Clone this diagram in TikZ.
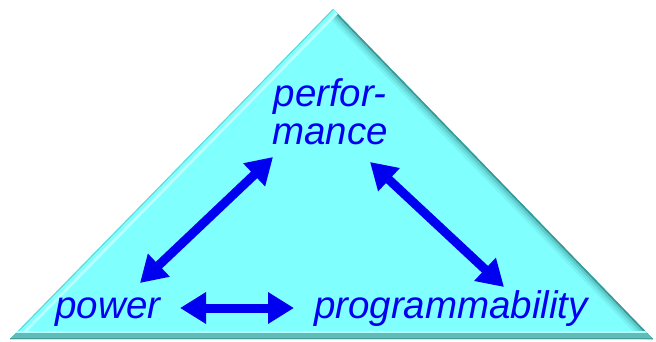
\documentclass[tikz,border=0pt]{standalone}
\usepackage{fontspec}
\setmainfont{Liberation Sans}
\usetikzlibrary{arrows.meta}
\definecolor{prism}{RGB}{128,255,255}
\definecolor{prismdark}{RGB}{60,150,150}
\definecolor{prismbase}{RGB}{96,188,182}
\definecolor{ink}{RGB}{0,0,240}
\begin{document}
\begin{tikzpicture}[x=1pt,y=-1pt,
  word/.style={text=ink,font=\itshape\fontsize{38.5}{38}\selectfont,inner sep=0pt},
  link/.style={draw=ink,line width=9pt,
    {Triangle[length=26pt,width=30pt]}-{Triangle[length=26pt,width=30pt]}}]
\useasboundingbox (0,0) rectangle (656,342);
% the prism
\coordinate (A) at (333,9);
\coordinate (B) at (10,339);
\coordinate (C) at (653,339);
\fill[prism] (A)--(B)--(C)--cycle;
\begin{scope}
  \clip (A)--(B)--(C)--cycle;
  % shaded right face
  \foreach \w/\c in {18/prism!88!prismdark,13/prism!72!prismdark,8/prism!50!prismdark,3/prismdark}
    \draw[line width=\w pt,\c] (A)--(C);
  % highlight along the left face
  \draw[line width=14pt,prism!55!white] (A)--(B);
  \draw[line width=8pt,prism] (A)--(B);
  \draw[line width=2pt,prism!60!prismdark] (A)--(B);
  % bottom face
  \fill[prism!60!white] (0,331) rectangle (656,333);
  \fill[prismbase] (0,333) rectangle (656,342);
  \fill[prismdark!80!prismbase] (0,338) rectangle (656,342);
\end{scope}
% labels
\node[word,anchor=base] (pw) at (108,318) {power};
\node[word,anchor=base] (pg) at (451,318) {programmability};
\node[word,align=center] (pf) at (330,112) {perfor-\\mance};
% arrow ends
\coordinate (l1) at (140,283);
\coordinate (l2) at (273,157);
\coordinate (r1) at (370,162);
\coordinate (r2) at (504,287);
\coordinate (h1) at (180,308);
\coordinate (h2) at (294,308);
\draw[link] (l1)--(l2);
\draw[link] (r1)--(r2);
\draw[link] (h1)--(h2);
\end{tikzpicture}
\end{document}
